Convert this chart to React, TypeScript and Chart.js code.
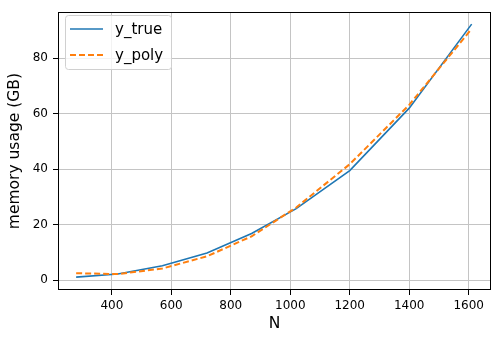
import React, { useEffect, useRef } from "react";
import { Chart, registerables } from "chart.js";

Chart.register(...registerables);

const nValues = [280, 420, 570, 720, 870, 1020, 1200, 1400, 1610];
const yTrue = [1.1, 2.2, 5.2, 9.8, 16.8, 25.8, 39.5, 62.0, 92.3];
const yPoly = [2.5, 2.2, 4.2, 8.6, 15.8, 26.2, 41.8, 63.2, 90.6];
const xTicks = [400, 600, 800, 1000, 1200, 1400, 1600];
const yTicks = [0, 20, 40, 60, 80];
const seriesLabels = ["y_true", "y_poly"];
const seriesColors = ["#1f77b4", "#ff7f0e"];

const FONT = "'DejaVu Sans', sans-serif";

const framePlugin = {
  id: "frame",
  afterDatasetsDraw(chart: any) {
    const { ctx, chartArea } = chart;
    ctx.save();
    ctx.strokeStyle = "#000";
    ctx.lineWidth = 1;
    ctx.strokeRect(
      Math.round(chartArea.left) + 0.5,
      Math.round(chartArea.top) + 0.5,
      Math.round(chartArea.right - chartArea.left) - 1,
      Math.round(chartArea.bottom - chartArea.top) - 1
    );
    ctx.restore();
  },
};

const legendPlugin = {
  id: "mplLegend",
  afterDraw(chart: any) {
    const { ctx } = chart;
    const x0 = 65.5, y0 = 15.5, w = 106, h = 54;
    ctx.save();
    ctx.beginPath();
    (ctx as any).roundRect(x0, y0, w, h, 3);
    ctx.fillStyle = "rgba(255,255,255,0.8)";
    ctx.fill();
    ctx.strokeStyle = "#d0d0d0";
    ctx.lineWidth = 1;
    ctx.stroke();
    const rows = [29, 55];
    chart.data.datasets.forEach((ds: any, i: number) => {
      const y = rows[i];
      ctx.beginPath();
      ctx.setLineDash(ds.borderDash || []);
      ctx.strokeStyle = ds.borderColor;
      ctx.lineWidth = ds.borderWidth;
      ctx.moveTo(70, y);
      ctx.lineTo(103, y);
      ctx.stroke();
      ctx.setLineDash([]);
      ctx.fillStyle = "#000";
      ctx.font = `15px ${FONT}`;
      ctx.textBaseline = "middle";
      ctx.textAlign = "left";
      ctx.fillText(ds.label, 115, y + 1);
    });
    ctx.restore();
  },
};

export default function App() {
  const ref = useRef<HTMLCanvasElement | null>(null);
  useEffect(() => {
    if (!ref.current) return;
    const chart = new Chart(ref.current, {
      type: "line",
      data: {
        datasets: [
          {
            label: seriesLabels[0],
            data: nValues.map((x, i) => ({ x, y: yTrue[i] })),
            borderColor: seriesColors[0],
            borderWidth: 1.6,
            pointRadius: 0,
            tension: 0,
            order: 1,
          },
          {
            label: seriesLabels[1],
            data: nValues.map((x, i) => ({ x, y: yPoly[i] })),
            borderColor: seriesColors[1],
            borderWidth: 2,
            borderDash: [6, 3],
            pointRadius: 0,
            tension: 0,
            order: 0,
          },
        ],
      },
      options: {
        animation: false,
        responsive: false,
        maintainAspectRatio: false,
        layout: { padding: { top: 8, right: 7, bottom: 0, left: 0 } },
        plugins: { legend: { display: false }, tooltip: { enabled: false } },
        scales: {
          x: {
            type: "linear",
            min: 219,
            max: 1675,
            afterBuildTicks: (s: any) => {
              s.ticks = xTicks.map((v) => ({ value: v }));
            },
            afterFit: (s: any) => {
              s.height = 53;
            },
            grid: { color: "#c4c4c4", lineWidth: 1, tickColor: "#000", tickLength: 5 },
            border: { display: false },
            ticks: {
              color: "#000",
              font: { family: FONT, size: 12 },
              padding: 4,
              maxRotation: 0,
              autoSkip: false,
              callback: (v: any) => String(v),
            },
            title: {
              display: true,
              text: "N",
              color: "#000",
              font: { family: FONT, size: 15.5 },
              padding: { top: 0, bottom: 10 },
            },
          },
          y: {
            type: "linear",
            min: -3.55,
            max: 96.6,
            afterBuildTicks: (s: any) => {
              s.ticks = yTicks.map((v) => ({ value: v }));
            },
            afterFit: (s: any) => {
              s.width = 58;
            },
            grid: { color: "#c4c4c4", lineWidth: 1, tickColor: "#000", tickLength: 5 },
            border: { display: false },
            ticks: {
              color: "#000",
              font: { family: FONT, size: 12 },
              padding: 5,
              autoSkip: false,
              callback: (v: any) => String(v),
            },
            title: {
              display: true,
              text: "memory usage (GB)",
              color: "#000",
              font: { family: FONT, size: 15.5 },
              padding: { top: 6, bottom: 0 },
            },
          },
        },
      },
      plugins: [framePlugin, legendPlugin],
    });
    return () => chart.destroy();
  }, []);
  return (
    <div style={{ position: "fixed", left: 0, top: 0, width: 498, height: 343, background: "#fff" }}>
      <canvas ref={ref} width={498} height={343} style={{ display: "block" }} />
    </div>
  );
}
